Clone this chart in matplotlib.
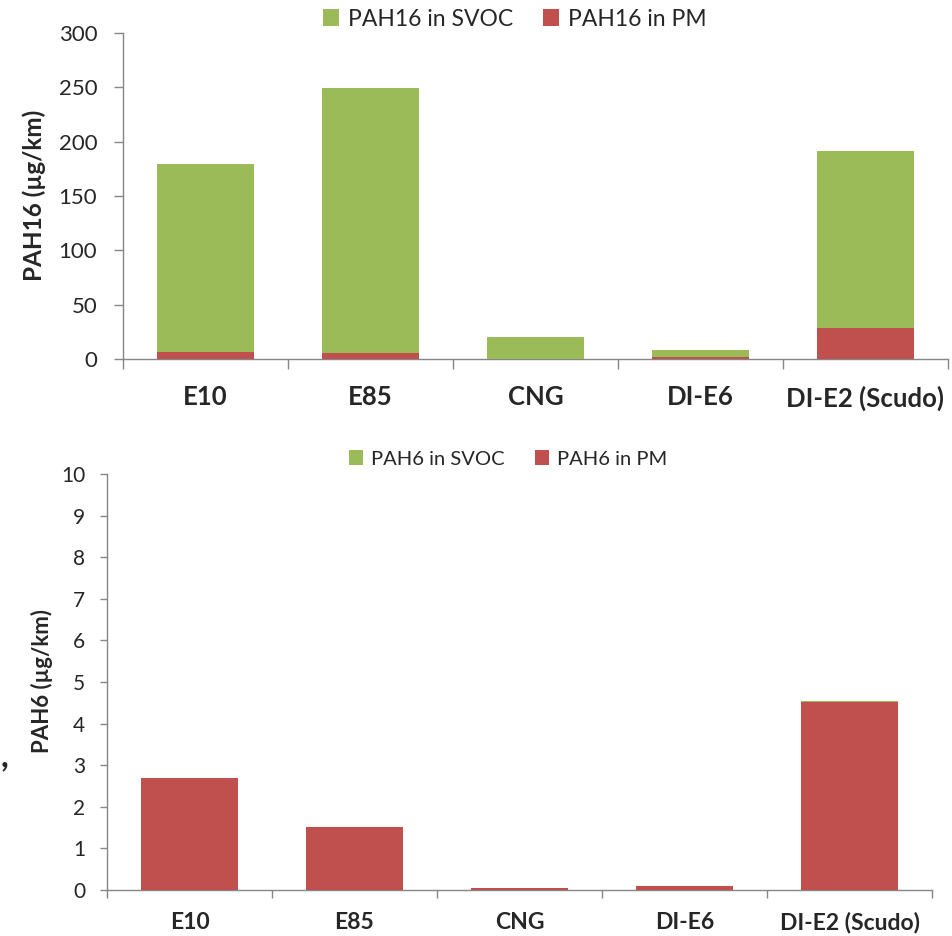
import matplotlib
matplotlib.use('Agg')
import matplotlib.pyplot as plt
import numpy as np
from matplotlib.ticker import FixedLocator, NullFormatter

# data
categories = ["E10", "E85", "CNG", "DI-E6", "DI-E2 (Scudo)"]
pah16_pm = [6.4, 5.2, 0.3, 1.8, 28.5]
pah16_svoc = [172.6, 243.8, 19.7, 6.8, 162.5]
pah6_pm = [2.70, 1.52, 0.04, 0.10, 4.51]
pah6_svoc = [0.0, 0.0, 0.0, 0.0, 0.03]

GREEN = '#9BBB59'
RED = '#C0504D'
AXIS = '#868686'
TEXT = '#262626'

plt.rcParams['font.family'] = ['Lato', 'DejaVu Sans']

W, H = 952, 936
fig = plt.figure(figsize=(W / 100, H / 100), dpi=100)


def frac(x0, y0, x1, y1):
    # pixel box -> figure fractions
    return [x0 / W, 1 - y1 / H, (x1 - x0) / W, (y1 - y0) / H]


def style_axes(ax, ymax, step, tick_fs, xlab_fs, tlen, tpad, xpad):
    x = np.arange(len(categories))
    ax.set_xlim(-0.5, len(categories) - 0.5)
    ax.set_ylim(0, ymax)
    ax.set_yticks(np.arange(0, ymax + step / 2, step))
    ax.set_xticks(x)
    ax.set_xticklabels(categories, fontsize=xlab_fs, fontweight='bold', color=TEXT)
    ax.xaxis.set_minor_locator(FixedLocator(np.arange(-0.5, len(categories), 1.0)))
    ax.xaxis.set_minor_formatter(NullFormatter())
    ax.tick_params(axis='x', which='major', length=0, pad=xpad)
    ax.tick_params(axis='x', which='minor', length=tlen + 1, width=1, color=AXIS, direction='out')
    ax.tick_params(axis='y', length=tlen, width=1, color=AXIS, pad=tpad,
                   labelsize=tick_fs, labelcolor=TEXT)
    for s in ['top', 'right']:
        ax.spines[s].set_visible(False)
    for s in ['left', 'bottom']:
        ax.spines[s].set_color(AXIS)
        ax.spines[s].set_linewidth(1)


x = np.arange(len(categories))
bw = 0.59

# top chart
ax1 = fig.add_axes(frac(123, 33, 948, 359))
ax1.bar(x, pah16_pm, bw, color=RED, label='PAH16 in PM', zorder=3)
ax1.bar(x, pah16_svoc, bw, bottom=pah16_pm, color=GREEN, label='PAH16 in SVOC', zorder=3)
style_axes(ax1, 300, 50, 16, 18.5, 6.5, 12, 19)
ax1.text(-0.108, 0.503, 'PAH16 (µg/km)', transform=ax1.transAxes, rotation=90,
         ha='center', va='center', fontsize=17.5, fontweight='bold', color=TEXT)
h, l = ax1.get_legend_handles_labels()
fig.legend(h[::-1], l[::-1], loc='center', bbox_to_anchor=(515 / W, 1 - 19 / H),
           ncol=2, frameon=False, fontsize=16.5, handlelength=0.7, handleheight=0.7,
           handletextpad=0.4, columnspacing=1.3, labelcolor=TEXT)

# bottom chart
ax2 = fig.add_axes(frac(107, 474.3, 932, 889.7))
ax2.bar(x, pah6_pm, bw, color=RED, label='PAH6 in PM', zorder=3)
ax2.bar(x, pah6_svoc, bw, bottom=pah6_pm, color=GREEN, label='PAH6 in SVOC', zorder=3)
style_axes(ax2, 10, 1, 15, 16.5, 5, 10.8, 16)
ax2.text(-0.079, 0.502, 'PAH6 (µg/km)', transform=ax2.transAxes, rotation=90,
         ha='center', va='center', fontsize=16, fontweight='bold', color=TEXT)
h, l = ax2.get_legend_handles_labels()
fig.legend(h[::-1], l[::-1], loc='center', bbox_to_anchor=(508 / W, 1 - 459 / H),
           ncol=2, frameon=False, fontsize=14.5, handlelength=0.7, handleheight=0.7,
           handletextpad=0.4, columnspacing=1.5, labelcolor=TEXT)

# stray comma left over from the source crop
fig.text(1 / W, 1 - 766 / H, ',', fontsize=24, fontweight='bold', color=TEXT,
         ha='left', va='baseline')

fig.savefig('out.png', dpi=100)
